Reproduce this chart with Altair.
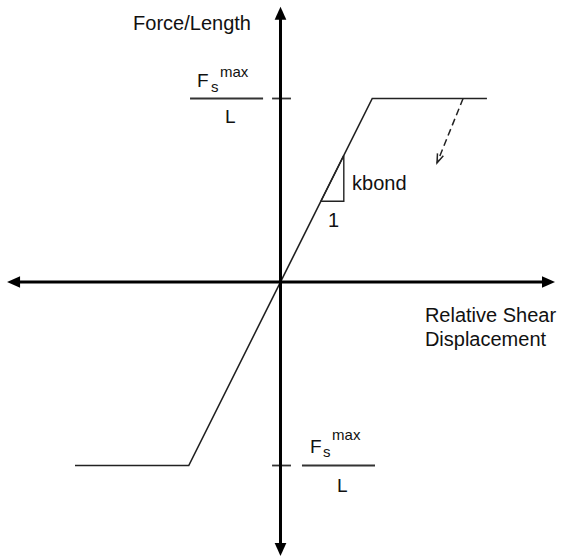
import altair as alt
import pandas as pd

# Bond-slip law: shear force per unit length vs relative shear displacement
disp = [-1.12, -0.5, 0.5, 1.125]
force = [-1.0, -1.0, 1.0, 1.0]

# Unloading branch (dashed) leaving the upper plateau
unload_disp = [0.995, 0.853]
unload_force = [1.0, 0.649]

# Stiffness triangle on the elastic branch
tri_disp = [0.22, 0.345, 0.345, 0.22]
tri_force = [0.44, 0.44, 0.69, 0.44]

# Coordinate axes (line extent) and arrow tips
axis_x_ends = [-1.445, 1.445]
axis_y_ends = [-1.44, 1.45]
arrow_x = [-1.49, 1.496, 0.0, 0.0]
arrow_y = [0.0, 0.0, 1.5, -1.493]
arrow_angle = [270, 90, 0, 180]

# Tick marks at +/- Fs_max / L and the fraction bars of the labels
tick_level = [1.0, -1.0]
tick_span = [-0.046, 0.057]
bar_start = [-0.493, 0.117]
bar_end = [-0.095, 0.515]

XS = alt.Scale(domain=[-1.5286, 1.5722], nice=False, zero=False)
YS = alt.Scale(domain=[-1.5095, 1.5368], nice=False, zero=False)
X = lambda f: alt.X(f, type="quantitative", scale=XS, axis=None)
Y = lambda f: alt.Y(f, type="quantitative", scale=YS, axis=None)

# segments: axes, ticks, fraction bars
segs = []
segs.append(dict(seg="xaxis", x=axis_x_ends[0], y=0.0, x2=axis_x_ends[1], y2=0.0))
segs.append(dict(seg="yaxis", x=0.0, y=axis_y_ends[0], x2=0.0, y2=axis_y_ends[1]))
seg_df = pd.DataFrame(segs)

tick_df = pd.DataFrame(
    [dict(x=tick_span[0], x2=tick_span[1], y=lv) for lv in tick_level]
    + [dict(x=s, x2=e, y=lv) for s, e, lv in zip(bar_start, bar_end, tick_level)]
)

curve_df = pd.DataFrame({"i": range(len(disp)), "d": disp, "f": force})
unload_df = pd.DataFrame({"i": range(2), "d": unload_disp, "f": unload_force})
tri_df = pd.DataFrame({"i": range(len(tri_disp)), "d": tri_disp, "f": tri_force})
arrow_df = pd.DataFrame({"x": arrow_x, "y": arrow_y, "a": arrow_angle})
unload_tip = pd.DataFrame({"x": [unload_disp[1]], "y": [unload_force[1]], "a": [22]})

# text labels (left aligned, alphabetic baseline)
labels = pd.DataFrame([
    dict(t="Relative Shear", x=0.787, y=-0.218, s=20),
    dict(t="Displacement", x=0.787, y=-0.349, s=20),
    dict(t="kbond", x=0.390, y=0.501, s=20),
    dict(t="1", x=0.259, y=0.300, s=20),
    dict(t="F", x=-0.455, y=1.063, s=19),
    dict(t="s", x=-0.379, y=1.035, s=15),
    dict(t="max", x=-0.330, y=1.117, s=15),
    dict(t="L", x=-0.302, y=0.866, s=19),
    dict(t="F", x=0.161, y=-0.932, s=19),
    dict(t="s", x=0.232, y=-0.954, s=15),
    dict(t="max", x=0.281, y=-0.861, s=15),
    dict(t="L", x=0.308, y=-1.144, s=19),
])
title_df = pd.DataFrame([dict(t="Force/Length", x=-0.161, y=1.373, s=20)])

FONT = "Liberation Sans"

axes = alt.Chart(seg_df).mark_rule(color="#000000", strokeWidth=3).encode(
    x=X("x"), y=Y("y"), x2="x2", y2="y2"
)
ticks = alt.Chart(tick_df).mark_rule(color="#333333", strokeWidth=1.8).encode(
    x=X("x"), x2="x2", y=Y("y")
)
arrows = alt.Chart(arrow_df).mark_point(
    shape="M0,0L0.9,2L-0.9,2Z", filled=True, color="#000000", opacity=1, size=169, strokeWidth=0
).encode(x=X("x"), y=Y("y"), angle=alt.Angle("a:Q", scale=None))

curve = alt.Chart(curve_df).mark_line(color="#222222", strokeWidth=1.6).encode(
    x=X("d"), y=Y("f"), order="i:Q"
)
unload = alt.Chart(unload_df).mark_line(
    color="#222222", strokeWidth=1.5, strokeDash=[7, 4]
).encode(x=X("d"), y=Y("f"), order="i:Q")
unload_head = alt.Chart(unload_tip).mark_point(
    shape="M-0.7,-2L0,0L0.7,-2", filled=False, color="#222222", opacity=1, size=81, strokeWidth=1.5
).encode(x=X("x"), y=Y("y"), angle=alt.Angle("a:Q", scale=None))
tri = alt.Chart(tri_df).mark_line(color="#222222", strokeWidth=1.4).encode(
    x=X("d"), y=Y("f"), order="i:Q"
)

text = alt.Chart(labels).mark_text(
    align="left", baseline="alphabetic", font=FONT, color="#111111"
).encode(x=X("x"), y=Y("y"), text="t:N", size=alt.Size("s:Q", scale=None))
title = alt.Chart(title_df).mark_text(
    align="right", baseline="alphabetic", font=FONT, color="#111111"
).encode(x=X("x"), y=Y("y"), text="t:N", size=alt.Size("s:Q", scale=None))

chart = alt.layer(
    ticks, curve, unload, unload_head, tri, axes, arrows, text, title
).properties(
    width=569, height=559, autosize=alt.AutoSizeParams(type="none"), padding=0,
    background="white",
).configure_view(stroke=None)

chart.save("out.html", embed_options={"renderer": "svg", "actions": False})
